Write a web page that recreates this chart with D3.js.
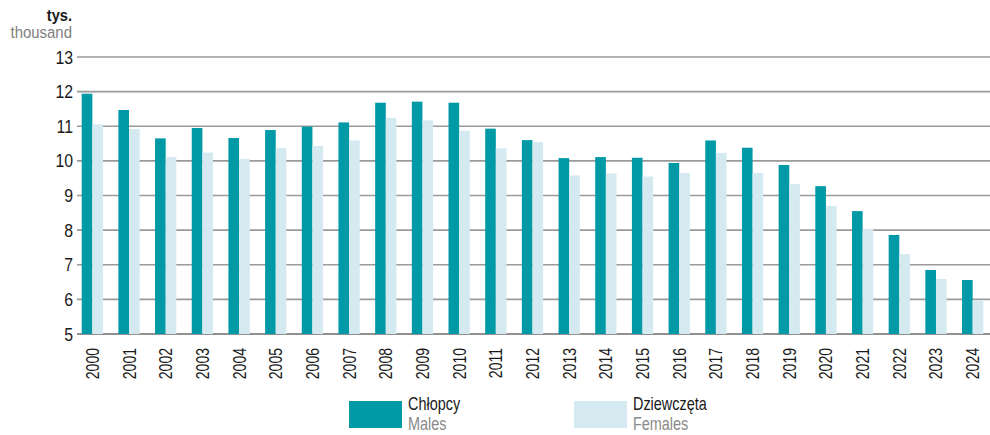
<!DOCTYPE html>
<html>
<head>
<meta charset="utf-8">
<script src="https://d3js.org/d3.v7.min.js"></script>
<style>
  body { margin: 0; background: #fff; }
  text { font-family: "Liberation Sans", Arial, sans-serif; }
</style>
</head>
<body>
<div id="chart"></div>
<script>
// years on the x axis
const years = ["2000","2001","2002","2003","2004","2005","2006","2007","2008","2009","2010","2011","2012",
  "2013","2014","2015","2016","2017","2018","2019","2020","2021","2022","2023","2024"];
// births, thousands
const males = [11.94,11.47,10.65,10.95,10.66,10.89,10.99,11.11,11.68,11.71,11.68,10.93,10.60,
  10.08,10.11,10.09,9.94,10.59,10.38,9.88,9.27,8.55,7.86,6.85,6.56];
const females = [11.06,10.92,10.11,10.24,10.06,10.37,10.43,10.59,11.24,11.17,10.87,10.36,10.54,
  9.58,9.64,9.55,9.65,10.23,9.65,9.33,8.70,8.03,7.31,6.59,5.97];
const yTicks = [5,6,7,8,9,10,11,12,13];

const width = 990, height = 435;
const narrow = 0.78; // squeeze text to look like a condensed face

const svg = d3.select("#chart").append("svg")
    .attr("width", width)
    .attr("height", height);

const x = d3.scaleBand().domain(years).range([74, 991]).paddingInner(0.42).paddingOuter(0.21);
const x1 = d3.scaleBand().domain(["m","f"]).range([0, x.bandwidth()]);
const y = d3.scaleLinear().domain([5, 13]).range([334, 57]);

// gridlines
svg.append("g")
  .selectAll("line")
  .data(yTicks)
  .join("line")
    .attr("x1", 77).attr("x2", 990)
    .attr("y1", d => y(d)).attr("y2", d => y(d))
    .attr("stroke", d => d === 5 ? "#6d6d6d" : "#9a9a9a")
    .attr("stroke-width", 1.6);

// y labels
svg.append("g")
  .selectAll("text")
  .data(yTicks)
  .join("text")
    .attr("transform", d => `translate(73,${y(d) + 6.5}) scale(0.88,1)`)
    .attr("text-anchor", "end")
    .attr("font-size", 18)
    .attr("fill", "#1a1a1a")
    .text(d => d);

svg.append("text").attr("transform", "translate(72,21) scale(0.86,1)").attr("text-anchor", "end")
  .attr("font-size", 17).attr("font-weight", "bold").attr("fill", "#1a1a1a").text("tys.");
svg.append("text").attr("transform", "translate(72,38) scale(0.88,1)").attr("text-anchor", "end")
  .attr("font-size", 17).attr("fill", "#808080").text("thousand");

// bars
const groups = svg.append("g")
  .selectAll("g")
  .data(years)
  .join("g")
    .attr("transform", d => `translate(${x(d)},0)`);

groups.append("rect")
  .attr("x", x1("m"))
  .attr("width", x1.bandwidth())
  .attr("y", (d, i) => y(males[i]))
  .attr("height", (d, i) => y(5) - y(males[i]))
  .attr("fill", "#009aa6");

groups.append("rect")
  .attr("x", x1("f"))
  .attr("width", x1.bandwidth())
  .attr("y", (d, i) => y(females[i]))
  .attr("height", (d, i) => y(5) - y(females[i]))
  .attr("fill", "#d4eaf0");

// x labels
svg.append("g")
  .selectAll("text")
  .data(years)
  .join("text")
    .attr("transform", d => `translate(${x(d) + x.bandwidth() / 2 + 6.5},348) rotate(-90) scale(0.78,1)`)
    .attr("text-anchor", "end")
    .attr("font-size", 18)
    .attr("fill", "#1a1a1a")
    .text(d => d);

// legend
const legend = [
  {pl: "Chłopcy", en: "Males", color: "#009aa6", x: 349},
  {pl: "Dziewczęta", en: "Females", color: "#d4eaf0", x: 574}
];
const lg = svg.append("g")
  .selectAll("g")
  .data(legend)
  .join("g")
    .attr("transform", d => `translate(${d.x},0)`);
lg.append("rect").attr("x", 0).attr("y", 401).attr("width", 53).attr("height", 27)
  .attr("fill", d => d.color);
lg.append("text").attr("transform", "translate(59,410) scale(" + narrow + ",1)").attr("font-size", 18.5)
  .attr("fill", "#1a1a1a").text(d => d.pl);
lg.append("text").attr("transform", "translate(59,429.5) scale(" + narrow + ",1)").attr("font-size", 18.5)
  .attr("fill", "#8a8a8a").text(d => d.en);
</script>
</body>
</html>
